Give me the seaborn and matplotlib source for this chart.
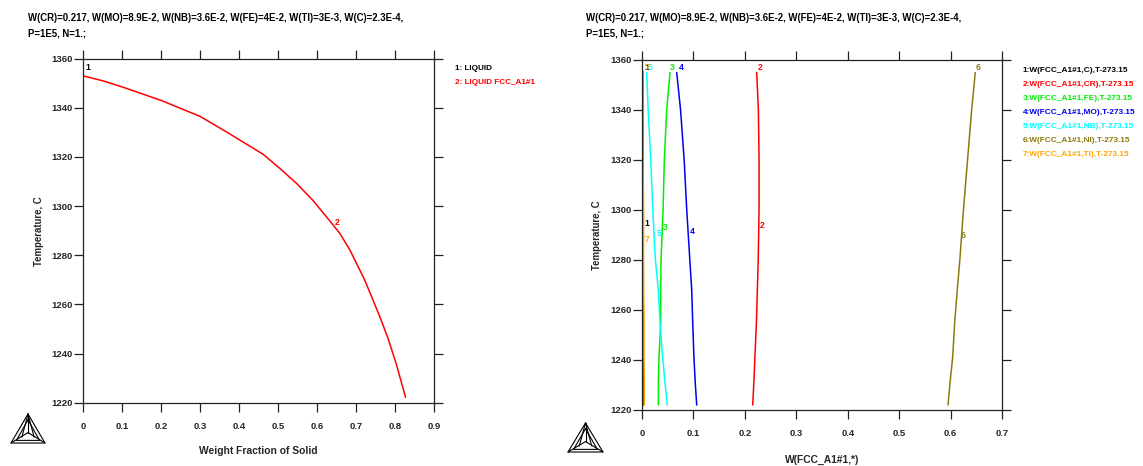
import pandas as pd
import matplotlib.pyplot as plt
import seaborn as sns
from matplotlib.lines import Line2D

W, H = 1143, 466

# Left panel: fraction of solid against temperature
solid_fraction = [0, 0.05, 0.1, 0.2, 0.3, 0.376, 0.419, 0.4615, 0.504, 0.547, 0.59, 0.6325,
                  0.658, 0.684, 0.722, 0.761, 0.782, 0.804, 0.827]
solid_temp = [1353, 1351, 1348.5, 1343, 1336.5, 1329.4, 1325.2, 1321.1, 1315.4, 1309.3, 1302.2, 1294,
              1289, 1282.2, 1270, 1255, 1246.2, 1235.3, 1222.2]

# Right panel: composition of FCC_A1#1 against temperature
comp_temp = [1355, 1340, 1320, 1300, 1280, 1268, 1255, 1241, 1231, 1222]
w_c = [0.001, 0.001, 0.001, 0.001, 0.001, 0.001, 0.001, 0.001, 0.001, 0.001]
w_cr = [0.223, 0.2263, 0.2276, 0.2276, 0.226, 0.2243, 0.2225, 0.2195, 0.2175, 0.2153]
w_fe = [0.0545, 0.048, 0.0434, 0.041, 0.037, 0.0364, 0.0364, 0.0331, 0.0318, 0.0318]
w_mo = [0.0675, 0.075, 0.082, 0.087, 0.093, 0.0967, 0.0986, 0.101, 0.1035, 0.1064]
w_nb = [0.009, 0.012, 0.017, 0.021, 0.026, 0.0318, 0.035, 0.0402, 0.0447, 0.0492]
w_ni = [0.648, 0.641, 0.633, 0.625, 0.618, 0.613, 0.608, 0.604, 0.599, 0.595]
w_ti = [0.002, 0.002, 0.002, 0.003, 0.003, 0.0033, 0.004, 0.004, 0.0045, 0.0045]

series_names = ['C', 'CR', 'FE', 'MO', 'NB', 'NI', 'TI']
series_colors = ['#000000', '#ff0000', '#00ee00', '#0000ee', '#00ffff', '#8b7a10', '#ffa500']

cond_line1 = 'W(CR)=0.217, W(MO)=8.9E-2, W(NB)=3.6E-2, W(FE)=4E-2, W(TI)=3E-3, W(C)=2.3E-4,'
cond_line2 = 'P=1E5, N=1.;'
temp_ticks = [1220, 1240, 1260, 1280, 1300, 1320, 1340, 1360]
left_xticks = [0, 0.1, 0.2, 0.3, 0.4, 0.5, 0.6, 0.7, 0.8, 0.9]
right_xticks = [0, 0.1, 0.2, 0.3, 0.4, 0.5, 0.6, 0.7]

sns.set_style('ticks')
plt.rcParams['font.family'] = ['Liberation Sans', 'DejaVu Sans']
plt.rcParams['font.weight'] = 'bold'

fig = plt.figure(figsize=(W / 100, H / 100), dpi=100)


def txt(x, y, s, color='black', size=6.4, ha='left', **kw):
    # text placed in picture pixels
    fig.text(x / W, 1 - y / H, s, color=color, fontsize=size, ha=ha, va='center',
             fontweight='bold', **kw)


def make_axes(x0, x1, y0, y1, xlim, xticks):
    ax = fig.add_axes([x0 / W, 1 - y1 / H, (x1 - x0) / W, (y1 - y0) / H])
    ax.set_xlim(*xlim)
    ax.set_ylim(1220, 1360)
    ax.set_xticks(xticks)
    ax.set_xticklabels([f'{t:g}' for t in xticks])
    ax.set_yticks(temp_ticks)
    ax.tick_params(axis='both', which='major', direction='out', length=6.5, width=0.9,
                   color='#222222', labelsize=6.8, top=True, right=True)
    ax.tick_params(axis='x', pad=7.2)
    ax.tick_params(axis='y', pad=1)
    for sp in ax.spines.values():
        sp.set_visible(True)
        sp.set_linewidth(0.9)
        sp.set_color('#222222')
    return ax


def axis_labels(ax, xlabel, xlabel_pos, ylabel_pos):
    # set after the seaborn call, which overwrites the labels
    ax.set_xlabel(xlabel, fontsize=7.35, fontweight='bold')
    ax.set_ylabel('Temperature, C', fontsize=6.9, fontweight='bold')
    ax.xaxis.set_label_coords(xlabel_pos[0] / W, 1 - xlabel_pos[1] / H, transform=fig.transFigure)
    ax.yaxis.set_label_coords(ylabel_pos[0] / W, 1 - ylabel_pos[1] / H, transform=fig.transFigure)
    ax.xaxis.label.set_va('center')
    ax.yaxis.label.set_va('center')


def logo(cx, top, half, base):
    # Thermo-Calc style triangle mark: outer and inner triangles, spokes to a centre point
    h = base - top
    mid = top + h * 0.64
    in_top = top + h * 0.2
    in_base = base - h * 0.09
    in_half = half * 0.68
    lines = [
        ([cx, cx - half, cx + half, cx], [top, base, base, top]),
        ([cx, cx - in_half, cx + in_half, cx], [in_top, in_base, in_base, in_top]),
        ([cx, cx], [top, mid]),
        ([cx - half, cx, cx + half], [base, mid, base]),
        ([cx, cx - half * 0.36], [top, base - h * 0.2]),
        ([cx, cx + half * 0.36], [top, base - h * 0.2]),
    ]
    for xs, ys in lines:
        fig.add_artist(Line2D([v / W for v in xs], [1 - v / H for v in ys],
                              color='black', lw=0.8, transform=fig.transFigure))


# Left panel
ax1 = make_axes(83.3, 434, 58.7, 402.7, (0, 0.9), left_xticks)
left_df = pd.DataFrame({'fraction': solid_fraction, 'temp': solid_temp})
sns.lineplot(data=left_df, x='fraction', y='temp', color='#ff0000', linewidth=1.1,
             sort=False, estimator=None, ax=ax1)
axis_labels(ax1, 'Weight Fraction of Solid', (258, 451), (39, 231))

txt(28, 18, cond_line1, size=6.95)
txt(28, 33, cond_line2, size=6.95)
txt(85, 67, '1', size=6.2)
txt(335, 222, '2', color='#ff0000', size=6.2)
txt(455, 69, '1: LIQUID', size=5.9)
txt(455, 82.7, '2: LIQUID FCC_A1#1', color='#ff0000', size=5.9)
logo(28, 414, 17, 443)

# Right panel
ax2 = make_axes(642, 1002, 60, 410, (0, 0.7), right_xticks)
series_values = [w_c, w_cr, w_fe, w_mo, w_nb, w_ni, w_ti]
rows = []
for name, vals in zip(series_names, series_values):
    rows.append(pd.DataFrame({'w': vals, 'temp': comp_temp, 'element': name}))
right_df = pd.concat(rows, ignore_index=True)
sns.lineplot(data=right_df, x='w', y='temp', hue='element', palette=series_colors,
             hue_order=series_names, linewidth=1.1, sort=False, estimator=None,
             legend=False, ax=ax2)
axis_labels(ax2, 'W(FCC_A1#1,*)', (822, 460), (597, 235))

txt(586, 18, cond_line1, size=6.95)
txt(586, 33, cond_line2, size=6.95)

# Curve numbers at the top and in the middle of the plot
top_pos = [(644, 67), (758, 67), (670, 67), (679, 67), (648, 67), (976, 67), (645, 67)]
mid_pos = [(644, 223), (760, 226), (663, 228), (690, 231), (657, 233), (961, 236), (645, 239)]
for i, c in enumerate(series_colors):
    txt(top_pos[i][0], top_pos[i][1], str(i + 1), color=c, size=6.2)
    txt(mid_pos[i][0], mid_pos[i][1], str(i + 1), color=c, size=6.2)
    txt(1023, 70 + i * 14, f'{i + 1}:W(FCC_A1#1,{series_names[i]}),T-273.15', color=c, size=5.95)

logo(585.5, 423, 17.5, 452)

plt.savefig('out.png', dpi=100)
